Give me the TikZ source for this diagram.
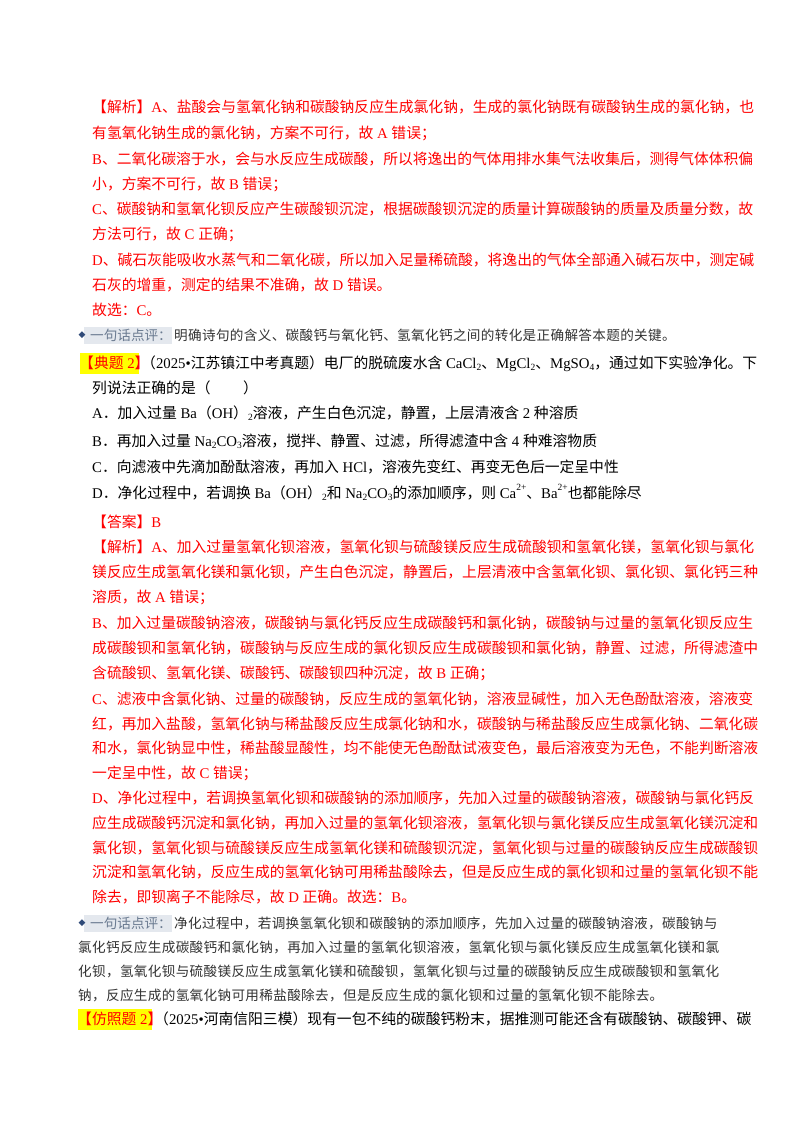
\documentclass[tikz,border=0pt]{standalone}
\usepackage{fontspec}
\setmainfont{Noto Sans CJK SC}
\newfontfamily\latinf{Liberation Serif}
\newfontfamily\cmtf[LetterSpace=2.5]{Noto Sans CJK SC}
\newcommand\lt[1]{{\latinf #1}}
\newcommand\sbs[1]{\raisebox{-0.35ex}{\latinf\fontsize{9.5}{9.5}\selectfont #1}}
\newcommand\sps[1]{\raisebox{0.9ex}{\latinf\fontsize{9.5}{9.5}\selectfont #1}}
\definecolor{ansred}{HTML}{FF0000}
\definecolor{dpgray}{HTML}{333333}
\definecolor{lblgray}{HTML}{6A7A90}
\definecolor{lblbg}{HTML}{E4E8EE}
\definecolor{mkblue}{HTML}{2F4A78}
\definecolor{hlyellow}{HTML}{FFFF00}
\newfontfamily\symf{DejaVu Sans}
\begin{document}
\begin{tikzpicture}[x=1pt,y=-1pt,
  lnx/.style={anchor=base west,inner sep=0pt,font=\fontsize{14.8}{16}\selectfont},
  rd/.style={lnx,text=ansred},
  bk/.style={lnx,text=black},
  lbl/.style={anchor=base west,inner sep=0pt,text=lblgray,font=\fontsize{13.6}{16}\selectfont},
  mkr/.style={text=mkblue,inner sep=0pt,font=\symf\fontsize{9}{9}\selectfont},
  cmt/.style={anchor=base west,inner sep=0pt,text=dpgray,font=\cmtf\fontsize{13.6}{16}\selectfont}]
\useasboundingbox[fill=white] (0,0) rectangle (800,1132);
% first analysis
\node[rd] (l1) at (92,112) {【解析】\lt{A}、盐酸会与氢氧化钠和碳酸钠反应生成氯化钠，生成的氯化钠既有碳酸钠生成的氯化钠，也};
\node[rd] (l2) at (92,138) {有氢氧化钠生成的氯化钠，方案不可行，故\lt{ A }错误；};
\node[rd] (l3) at (92,164) {\lt{B}、二氧化碳溶于水，会与水反应生成碳酸，所以将逸出的气体用排水集气法收集后，测得气体体积偏};
\node[rd] (l4) at (92,189) {小，方案不可行，故\lt{ B }错误；};
\node[rd] (l5) at (92,214) {\lt{C}、碳酸钠和氢氧化钡反应产生碳酸钡沉淀，根据碳酸钡沉淀的质量计算碳酸钠的质量及质量分数，故};
\node[rd] (l6) at (92,239) {方法可行，故\lt{ C }正确；};
\node[rd] (l7) at (92,265) {\lt{D}、碱石灰能吸收水蒸气和二氧化碳，所以加入足量稀硫酸，将逸出的气体全部通入碱石灰中，测定碱};
\node[rd] (l8) at (92,290) {石灰的增重，测定的结果不准确，故\lt{ D }错误。};
\node[rd] (l9) at (92,315) {故选：\lt{C}。};
% comment 1
\fill[lblbg] (84,327) rectangle (172,344);
\node[mkr] (mk1) at (82,335.5) {◆};
\node[lbl] (lb1) at (90,340) {一句话点评：};
\node[cmt] (c1) at (174,340) {明确诗句的含义、碳酸钙与氧化钙、氢氧化钙之间的转化是正确解答本题的关键。};
% question
\fill[hlyellow] (80,353) rectangle (139,374);
\node[rd] (q0) at (79,368) {【典题\lt{ 2}】};
\node[bk] (q1) at (141,368) {（\lt{2025•}江苏镇江中考真题）电厂的脱硫废水含\lt{ CaCl}\sbs{2}、\lt{MgCl}\sbs{2}、\lt{MgSO}\sbs{4}，通过如下实验净化。下};
\node[bk] (q2) at (92,393) {列说法正确的是（\hspace{2.2em}）};
\node[bk] (qa) at (92,418) {\lt{A}．加入过量\lt{ Ba}（\lt{OH}）\sbs{2}溶液，产生白色沉淀，静置，上层清液含\lt{ 2 }种溶质};
\node[bk] (qb) at (92,446) {\lt{B}．再加入过量\lt{ Na}\sbs{2}\lt{CO}\sbs{3}溶液，搅拌、静置、过滤，所得滤渣中含\lt{ 4 }种难溶物质};
\node[bk] (qc) at (92,472) {\lt{C}．向滤液中先滴加酚酞溶液，再加入\lt{ HCl}，溶液先变红、再变无色后一定呈中性};
\node[bk] (qd) at (92,498) {\lt{D}．净化过程中，若调换\lt{ Ba}（\lt{OH}）\sbs{2}和\lt{ Na}\sbs{2}\lt{CO}\sbs{3}的添加顺序，则\lt{ Ca}\sps{2+}、\lt{Ba}\sps{2+}也都能除尽};
\node[rd] (ans) at (92,527) {【答案】\lt{B}};
% second analysis
\node[rd] (m1) at (92,552) {【解析】\lt{A}、加入过量氢氧化钡溶液，氢氧化钡与硫酸镁反应生成硫酸钡和氢氧化镁，氢氧化钡与氯化};
\node[rd] (m2) at (92,577) {镁反应生成氢氧化镁和氯化钡，产生白色沉淀，静置后，上层清液中含氢氧化钡、氯化钡、氯化钙三种};
\node[rd] (m3) at (92,602) {溶质，故\lt{ A }错误；};
\node[rd] (m4) at (92,628) {\lt{B}、加入过量碳酸钠溶液，碳酸钠与氯化钙反应生成碳酸钙和氯化钠，碳酸钠与过量的氢氧化钡反应生};
\node[rd] (m5) at (92,653) {成碳酸钡和氢氧化钠，碳酸钠与反应生成的氯化钡反应生成碳酸钡和氯化钠，静置、过滤，所得滤渣中};
\node[rd] (m6) at (92,678) {含硫酸钡、氢氧化镁、碳酸钙、碳酸钡四种沉淀，故\lt{ B }正确；};
\node[rd] (m7) at (92,704) {\lt{C}、滤液中含氯化钠、过量的碳酸钠，反应生成的氢氧化钠，溶液显碱性，加入无色酚酞溶液，溶液变};
\node[rd] (m8) at (92,729) {红，再加入盐酸，氢氧化钠与稀盐酸反应生成氯化钠和水，碳酸钠与稀盐酸反应生成氯化钠、二氧化碳};
\node[rd] (m9) at (92,753) {和水，氯化钠显中性，稀盐酸显酸性，均不能使无色酚酞试液变色，最后溶液变为无色，不能判断溶液};
\node[rd] (m10) at (92,778) {一定呈中性，故\lt{ C }错误；};
\node[rd] (m11) at (92,803) {\lt{D}、净化过程中，若调换氢氧化钡和碳酸钠的添加顺序，先加入过量的碳酸钠溶液，碳酸钠与氯化钙反};
\node[rd] (m12) at (92,828) {应生成碳酸钙沉淀和氯化钠，再加入过量的氢氧化钡溶液，氢氧化钡与氯化镁反应生成氢氧化镁沉淀和};
\node[rd] (m13) at (92,853) {氯化钡，氢氧化钡与硫酸镁反应生成氢氧化镁和硫酸钡沉淀，氢氧化钡与过量的碳酸钠反应生成碳酸钡};
\node[rd] (m14) at (92,877) {沉淀和氢氧化钠，反应生成的氢氧化钠可用稀盐酸除去，但是反应生成的氯化钡和过量的氢氧化钡不能};
\node[rd] (m15) at (92,902) {除去，即钡离子不能除尽，故\lt{ D }正确。故选：\lt{B}。};
% comment 2
\fill[lblbg] (84,915) rectangle (172,932);
\node[mkr] (mk2) at (82,923.5) {◆};
\node[lbl] (lb2) at (90,928) {一句话点评：};
\node[cmt] (d1) at (174,928) {净化过程中，若调换氢氧化钡和碳酸钠的添加顺序，先加入过量的碳酸钠溶液，碳酸钠与};
\node[cmt] (d2) at (78,952) {氯化钙反应生成碳酸钙和氯化钠，再加入过量的氢氧化钡溶液，氢氧化钡与氯化镁反应生成氢氧化镁和氯};
\node[cmt] (d3) at (78,976) {化钡，氢氧化钡与硫酸镁反应生成氢氧化镁和硫酸钡，氢氧化钡与过量的碳酸钠反应生成碳酸钡和氢氧化};
\node[cmt] (d4) at (78,1000) {钠，反应生成的氢氧化钠可用稀盐酸除去，但是反应生成的氯化钡和过量的氢氧化钡不能除去。};
% next question
\fill[hlyellow] (78,1009) rectangle (152,1030);
\node[rd] (p0) at (77,1024) {【仿照题\lt{ 2}】};
\node[bk] (p1) at (154,1024) {（\lt{2025•}河南信阳三模）现有一包不纯的碳酸钙粉末，据推测可能还含有碳酸钠、碳酸钾、碳};
\end{tikzpicture}
\end{document}
